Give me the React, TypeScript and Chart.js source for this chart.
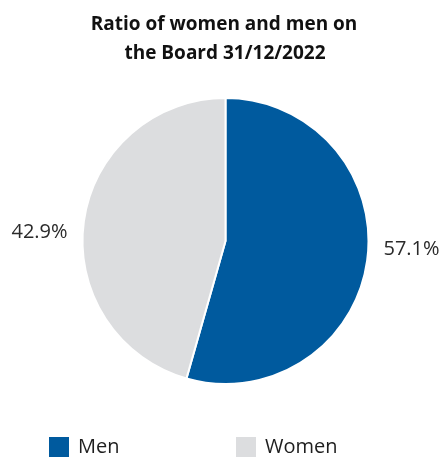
import React, { useEffect, useRef } from "react";
import { Chart, registerables } from "chart.js";

Chart.register(...registerables);

const categories = ["Men", "Women"];
const shares = [54.4, 45.6];
const shareLabels = ["57.1%", "42.9%"];
const colors = ["#005A9E", "#DCDDDF"];
const titleLines = ["Ratio of women and men on", "the Board 31/12/2022"];

const FONT = "'Open Sans', 'Noto Sans', sans-serif";

const overlayPlugin = {
  id: "overlay",
  afterDraw(chart: any) {
    const ctx = chart.ctx as CanvasRenderingContext2D;
    ctx.save();
    // title
    ctx.fillStyle = "#111";
    ctx.font = `bold 19px ${FONT}`;
    ctx.textAlign = "center";
    ctx.textBaseline = "alphabetic";
    ctx.fillText(titleLines[0], 224, 30);
    ctx.fillText(titleLines[1], 225, 59);

    // outside labels
    const meta = chart.getDatasetMeta(0);
    ctx.font = `20px ${FONT}`;
    ctx.fillStyle = "#2a2a2a";
    ctx.textBaseline = "middle";
    meta.data.forEach((arc: any, i: number) => {
      const mid = (arc.startAngle + arc.endAngle) / 2;
      const side = Math.cos(mid) >= 0 ? 1 : -1;
      const x = arc.x + side * 186;
      const y = arc.y + Math.sin(mid) * 62;
      ctx.textAlign = "center";
      ctx.fillText(shareLabels[i], x, y);
    });

    // legend
    const legendX = [49, 236];
    ctx.font = `20px ${FONT}`;
    ctx.textAlign = "left";
    categories.forEach((c, i) => {
      ctx.fillStyle = colors[i];
      ctx.fillRect(legendX[i], 437, 20, 20);
      ctx.fillStyle = "#1e1e1e";
      ctx.fillText(c, legendX[i] + 29, 447.5);
    });
    ctx.restore();
  },
};

export default function App() {
  const ref = useRef<HTMLCanvasElement | null>(null);
  useEffect(() => {
    document.body.style.margin = "0";
    const chart = new Chart(ref.current!, {
      type: "pie",
      data: {
        labels: categories,
        datasets: [
          {
            data: shares,
            backgroundColor: colors,
            borderColor: "#ffffff",
            borderWidth: 2,
          },
        ],
      },
      options: {
        responsive: false,
        animation: false,
        layout: { padding: { left: 81.5, right: 74.5, top: 97, bottom: 75 } },
        plugins: {
          legend: { display: false },
          title: { display: false },
          tooltip: { enabled: false },
        },
      },
      plugins: [overlayPlugin],
    });
    return () => chart.destroy();
  }, []);
  return (
    <div style={{ width: 444, height: 460 }}>
      <canvas ref={ref} width={444} height={460} />
    </div>
  );
}
